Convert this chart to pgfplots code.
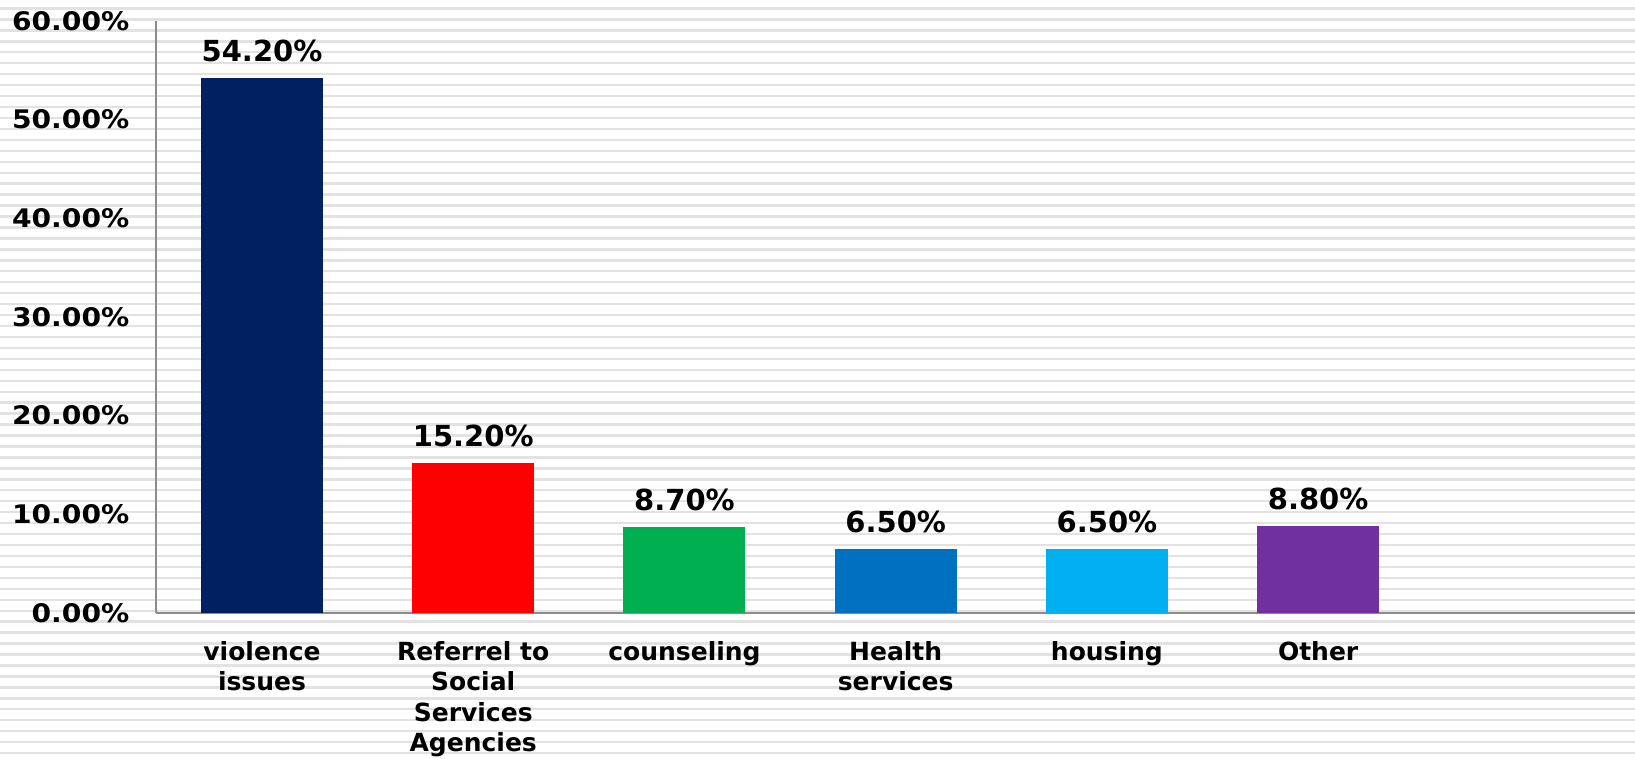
\documentclass[border=0pt]{standalone}
\usepackage{pgfplots}
\pgfplotsset{compat=1.18}
\usepackage{fontspec}
\setmainfont{DejaVu Sans}
\newfontfamily\tickfont[FakeStretch=1.1]{DejaVu Sans}
\definecolor{c1}{HTML}{002060}
\definecolor{c2}{HTML}{FF0000}
\definecolor{c3}{HTML}{00B050}
\definecolor{c4}{HTML}{0070C0}
\definecolor{c5}{HTML}{00B0F0}
\definecolor{c6}{HTML}{7030A0}
\definecolor{axisgray}{HTML}{8C8C8C}
\definecolor{stripe}{HTML}{E2E2E2}
\begin{document}
\begin{tikzpicture}
\useasboundingbox (0,0) rectangle (817.5pt,379.5pt);
\begin{scope}
\clip (0,0) rectangle (817.5pt,379.5pt);
\foreach \k in {-20,...,60} {
  \fill[stripe] (0pt,{101.5pt+\k*5.475pt-0.6pt}) rectangle (817.5pt,{101.5pt+\k*5.475pt+0.6pt});
}
\end{scope}
\begin{axis}[
  at={(78.2pt,73pt)}, anchor=south west,
  scale only axis, width=739.3pt, height=296pt,
  xmin=-0.5, xmax=6.5, ymin=0, ymax=60,
  ybar, bar width=61pt, bar shift=0pt,
  axis x line=bottom, axis y line=left,
  axis line style={draw=axisgray, line width=1pt, -},
  major tick length=0pt,
  /pgf/number format/assume math mode=true,
  ytick={0,10,...,60},
  yticklabel={\pgfmathprintnumber[fixed,fixed zerofill,precision=2]{\tick}\%},
  yticklabel style={font=\tickfont\fontsize{12.8}{15}\selectfont\bfseries, xshift=-10pt},
  xtick={0,1,2,3,4,5},
  xticklabels={{violence\\issues}, {Referrel to\\Social\\Services\\Agencies}, {counseling}, {Health\\services}, {housing}, {Other}},
  xticklabel style={font=\fontsize{12.5}{15.3}\selectfont\bfseries, align=center, anchor=north, yshift=-10.5pt},
  nodes near coords={\pgfmathprintnumber[fixed,fixed zerofill,precision=2]{\pgfplotspointmeta}\%},
  nodes near coords style={font=\fontsize{14.5}{17}\selectfont\bfseries, anchor=south, yshift=4.5pt, text=black},
  clip=false,
]
\addplot[fill=c1, draw=none] coordinates {(0,54.2)};
\addplot[fill=c2, draw=none] coordinates {(1,15.2)};
\addplot[fill=c3, draw=none] coordinates {(2,8.7)};
\addplot[fill=c4, draw=none] coordinates {(3,6.5)};
\addplot[fill=c5, draw=none] coordinates {(4,6.5)};
\addplot[fill=c6, draw=none] coordinates {(5,8.8)};
\end{axis}
\end{tikzpicture}
\end{document}
